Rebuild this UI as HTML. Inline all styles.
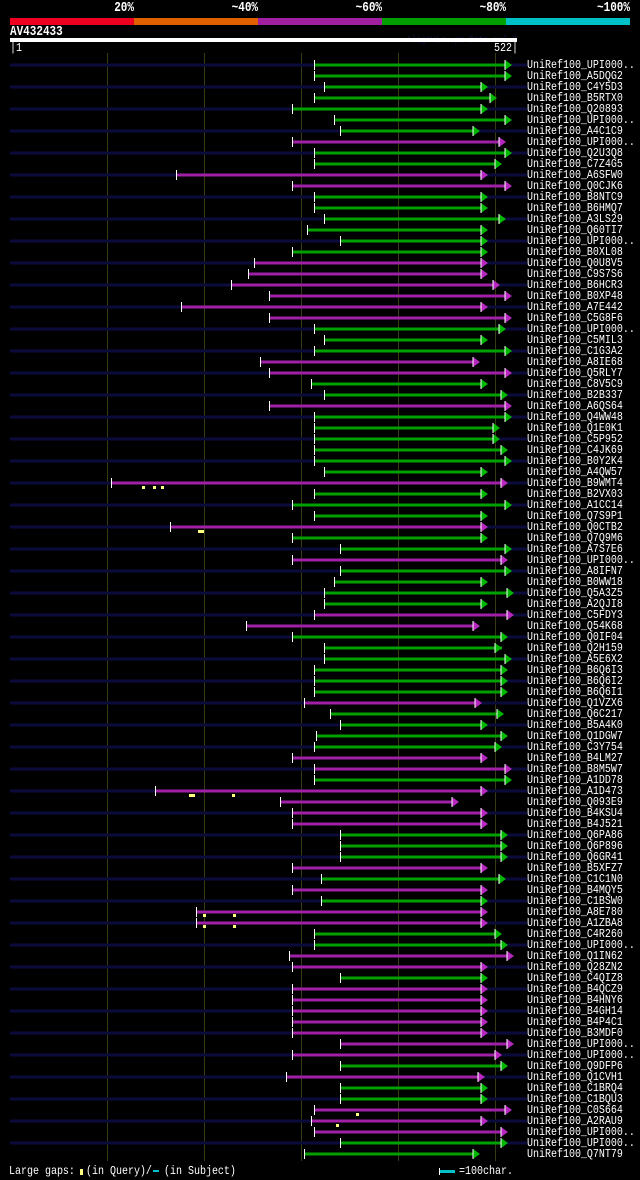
<!DOCTYPE html>
<html><head><meta charset="utf-8"><style>
html,body{margin:0;padding:0;background:#000;width:640px;height:1180px;overflow:hidden}
svg{display:block}
.b{fill:#0a0a38}.g{fill:#00a000}.m{fill:#a020a8}.w{fill:#fff}
text{font-family:"Liberation Mono",monospace;fill:#fff;transform-box:fill-box;transform-origin:left bottom;transform:scaleY(1.22)}
.l{font-size:10px}
</style></head><body>
<svg width="640" height="1180" xmlns="http://www.w3.org/2000/svg">
<defs>
<g id="tg"><polygon points="-7,-5 0,0 -7,5" fill="#00b800"/><rect x="-7.5" y="-5" width="1" height="10" fill="#fff"/></g>
<g id="tm"><polygon points="-7,-5 0,0 -7,5" fill="#b828c0"/><rect x="-7.5" y="-5" width="1" height="10" fill="#fff"/></g>
<rect id="bg" x="10" y="-1.5" width="517" height="3" fill="#0c0c3c"/>
</defs>
<text x="134" y="12" text-anchor="end" font-size="11" font-weight="bold">20%</text>
<text x="258" y="12" text-anchor="end" font-size="11" font-weight="bold">~40%</text>
<text x="382" y="12" text-anchor="end" font-size="11" font-weight="bold">~60%</text>
<text x="506" y="12" text-anchor="end" font-size="11" font-weight="bold">~80%</text>
<text x="630" y="12" text-anchor="end" font-size="11" font-weight="bold">~100%</text>
<rect x="10" y="18" width="124" height="7" fill="#f00020"/>
<rect x="134" y="18" width="124" height="7" fill="#e06000"/>
<rect x="258" y="18" width="124" height="7" fill="#a020a0"/>
<rect x="382" y="18" width="124" height="7" fill="#00a000"/>
<rect x="506" y="18" width="124" height="7" fill="#00c0c8"/>
<text x="10" y="36" font-size="11" font-weight="bold">AV432433</text>
<text x="517" y="43" text-anchor="end" font-size="8" style="fill:#101040">AlignView.pm Beta rel.7</text>
<rect x="10" y="38" width="507" height="4" fill="#fff"/>
<text x="10" y="52" font-size="10">|1</text>
<text x="518" y="52" text-anchor="end" font-size="10">522|</text>
<g fill="#3a3a10"><rect x="107" y="53" width="1" height="1108"/><rect x="204" y="53" width="1" height="1108"/><rect x="301" y="53" width="1" height="1108"/><rect x="398" y="53" width="1" height="1108"/><rect x="495" y="53" width="1" height="1108"/></g>

<g transform="translate(0,65)"><use href="#bg"/><rect class="g" x="314" y="-1.5" width="192" height="3"/><rect class="w" x="314" y="-5" width="1" height="10"/><use href="#tg" x="512"/><text class="l" x="527" y="4">UniRef100_UPI000..</text></g>
<g transform="translate(0,76)"><rect class="g" x="314" y="-1.5" width="192" height="3"/><rect class="w" x="314" y="-5" width="1" height="10"/><use href="#tg" x="512"/><text class="l" x="527" y="4">UniRef100_A5DQG2</text></g>
<g transform="translate(0,87)"><use href="#bg"/><rect class="g" x="324" y="-1.5" width="158" height="3"/><rect class="w" x="324" y="-5" width="1" height="10"/><use href="#tg" x="488"/><text class="l" x="527" y="4">UniRef100_C4Y5D3</text></g>
<g transform="translate(0,98)"><rect class="g" x="314" y="-1.5" width="177" height="3"/><rect class="w" x="314" y="-5" width="1" height="10"/><use href="#tg" x="497"/><text class="l" x="527" y="4">UniRef100_B5RTX0</text></g>
<g transform="translate(0,109)"><use href="#bg"/><rect class="g" x="292" y="-1.5" width="190" height="3"/><rect class="w" x="292" y="-5" width="1" height="10"/><use href="#tg" x="488"/><text class="l" x="527" y="4">UniRef100_Q20893</text></g>
<g transform="translate(0,120)"><rect class="g" x="334" y="-1.5" width="172" height="3"/><rect class="w" x="334" y="-5" width="1" height="10"/><use href="#tg" x="512"/><text class="l" x="527" y="4">UniRef100_UPI000..</text></g>
<g transform="translate(0,131)"><use href="#bg"/><rect class="g" x="340" y="-1.5" width="134" height="3"/><rect class="w" x="340" y="-5" width="1" height="10"/><use href="#tg" x="480"/><text class="l" x="527" y="4">UniRef100_A4C1C9</text></g>
<g transform="translate(0,142)"><rect class="m" x="292" y="-1.5" width="208" height="3"/><rect class="w" x="292" y="-5" width="1" height="10"/><use href="#tm" x="506"/><text class="l" x="527" y="4">UniRef100_UPI000..</text></g>
<g transform="translate(0,153)"><use href="#bg"/><rect class="g" x="314" y="-1.5" width="192" height="3"/><rect class="w" x="314" y="-5" width="1" height="10"/><use href="#tg" x="512"/><text class="l" x="527" y="4">UniRef100_Q2U3Q8</text></g>
<g transform="translate(0,164)"><rect class="g" x="314" y="-1.5" width="182" height="3"/><rect class="w" x="314" y="-5" width="1" height="10"/><use href="#tg" x="502"/><text class="l" x="527" y="4">UniRef100_C7Z4G5</text></g>
<g transform="translate(0,175)"><use href="#bg"/><rect class="m" x="176" y="-1.5" width="306" height="3"/><rect class="w" x="176" y="-5" width="1" height="10"/><use href="#tm" x="488"/><text class="l" x="527" y="4">UniRef100_A6SFW0</text></g>
<g transform="translate(0,186)"><rect class="m" x="292" y="-1.5" width="214" height="3"/><rect class="w" x="292" y="-5" width="1" height="10"/><use href="#tm" x="512"/><text class="l" x="527" y="4">UniRef100_Q0CJK6</text></g>
<g transform="translate(0,197)"><use href="#bg"/><rect class="g" x="314" y="-1.5" width="168" height="3"/><rect class="w" x="314" y="-5" width="1" height="10"/><use href="#tg" x="488"/><text class="l" x="527" y="4">UniRef100_B8NTC9</text></g>
<g transform="translate(0,208)"><rect class="g" x="314" y="-1.5" width="168" height="3"/><rect class="w" x="314" y="-5" width="1" height="10"/><use href="#tg" x="488"/><text class="l" x="527" y="4">UniRef100_B6HMQ7</text></g>
<g transform="translate(0,219)"><use href="#bg"/><rect class="g" x="324" y="-1.5" width="176" height="3"/><rect class="w" x="324" y="-5" width="1" height="10"/><use href="#tg" x="506"/><text class="l" x="527" y="4">UniRef100_A3LS29</text></g>
<g transform="translate(0,230)"><rect class="g" x="307" y="-1.5" width="175" height="3"/><rect class="w" x="307" y="-5" width="1" height="10"/><use href="#tg" x="488"/><text class="l" x="527" y="4">UniRef100_Q60TI7</text></g>
<g transform="translate(0,241)"><use href="#bg"/><rect class="g" x="340" y="-1.5" width="142" height="3"/><rect class="w" x="340" y="-5" width="1" height="10"/><use href="#tg" x="488"/><text class="l" x="527" y="4">UniRef100_UPI000..</text></g>
<g transform="translate(0,252)"><rect class="g" x="292" y="-1.5" width="190" height="3"/><rect class="w" x="292" y="-5" width="1" height="10"/><use href="#tg" x="488"/><text class="l" x="527" y="4">UniRef100_B0XL08</text></g>
<g transform="translate(0,263)"><use href="#bg"/><rect class="m" x="254" y="-1.5" width="228" height="3"/><rect class="w" x="254" y="-5" width="1" height="10"/><use href="#tm" x="488"/><text class="l" x="527" y="4">UniRef100_Q0U8V5</text></g>
<g transform="translate(0,274)"><rect class="m" x="248" y="-1.5" width="234" height="3"/><rect class="w" x="248" y="-5" width="1" height="10"/><use href="#tm" x="488"/><text class="l" x="527" y="4">UniRef100_C9S7S6</text></g>
<g transform="translate(0,285)"><use href="#bg"/><rect class="m" x="231" y="-1.5" width="263" height="3"/><rect class="w" x="231" y="-5" width="1" height="10"/><use href="#tm" x="500"/><text class="l" x="527" y="4">UniRef100_B6HCR3</text></g>
<g transform="translate(0,296)"><rect class="m" x="269" y="-1.5" width="237" height="3"/><rect class="w" x="269" y="-5" width="1" height="10"/><use href="#tm" x="512"/><text class="l" x="527" y="4">UniRef100_B0XP48</text></g>
<g transform="translate(0,307)"><use href="#bg"/><rect class="m" x="181" y="-1.5" width="301" height="3"/><rect class="w" x="181" y="-5" width="1" height="10"/><use href="#tm" x="488"/><text class="l" x="527" y="4">UniRef100_A7E442</text></g>
<g transform="translate(0,318)"><rect class="m" x="269" y="-1.5" width="237" height="3"/><rect class="w" x="269" y="-5" width="1" height="10"/><use href="#tm" x="512"/><text class="l" x="527" y="4">UniRef100_C5G8F6</text></g>
<g transform="translate(0,329)"><use href="#bg"/><rect class="g" x="314" y="-1.5" width="186" height="3"/><rect class="w" x="314" y="-5" width="1" height="10"/><use href="#tg" x="506"/><text class="l" x="527" y="4">UniRef100_UPI000..</text></g>
<g transform="translate(0,340)"><rect class="g" x="324" y="-1.5" width="158" height="3"/><rect class="w" x="324" y="-5" width="1" height="10"/><use href="#tg" x="488"/><text class="l" x="527" y="4">UniRef100_C5MIL3</text></g>
<g transform="translate(0,351)"><use href="#bg"/><rect class="g" x="314" y="-1.5" width="192" height="3"/><rect class="w" x="314" y="-5" width="1" height="10"/><use href="#tg" x="512"/><text class="l" x="527" y="4">UniRef100_C1G3A2</text></g>
<g transform="translate(0,362)"><rect class="m" x="260" y="-1.5" width="214" height="3"/><rect class="w" x="260" y="-5" width="1" height="10"/><use href="#tm" x="480"/><text class="l" x="527" y="4">UniRef100_A8IE68</text></g>
<g transform="translate(0,373)"><use href="#bg"/><rect class="m" x="269" y="-1.5" width="237" height="3"/><rect class="w" x="269" y="-5" width="1" height="10"/><use href="#tm" x="512"/><text class="l" x="527" y="4">UniRef100_Q5RLY7</text></g>
<g transform="translate(0,384)"><rect class="g" x="311" y="-1.5" width="171" height="3"/><rect class="w" x="311" y="-5" width="1" height="10"/><use href="#tg" x="488"/><text class="l" x="527" y="4">UniRef100_C8V5C9</text></g>
<g transform="translate(0,395)"><use href="#bg"/><rect class="g" x="324" y="-1.5" width="178" height="3"/><rect class="w" x="324" y="-5" width="1" height="10"/><use href="#tg" x="508"/><text class="l" x="527" y="4">UniRef100_B2B337</text></g>
<g transform="translate(0,406)"><rect class="m" x="269" y="-1.5" width="237" height="3"/><rect class="w" x="269" y="-5" width="1" height="10"/><use href="#tm" x="512"/><text class="l" x="527" y="4">UniRef100_A6QS64</text></g>
<g transform="translate(0,417)"><use href="#bg"/><rect class="g" x="314" y="-1.5" width="192" height="3"/><rect class="w" x="314" y="-5" width="1" height="10"/><use href="#tg" x="512"/><text class="l" x="527" y="4">UniRef100_Q4WW48</text></g>
<g transform="translate(0,428)"><rect class="g" x="314" y="-1.5" width="180" height="3"/><rect class="w" x="314" y="-5" width="1" height="10"/><use href="#tg" x="500"/><text class="l" x="527" y="4">UniRef100_Q1E0K1</text></g>
<g transform="translate(0,439)"><use href="#bg"/><rect class="g" x="314" y="-1.5" width="180" height="3"/><rect class="w" x="314" y="-5" width="1" height="10"/><use href="#tg" x="500"/><text class="l" x="527" y="4">UniRef100_C5P952</text></g>
<g transform="translate(0,450)"><rect class="g" x="314" y="-1.5" width="188" height="3"/><rect class="w" x="314" y="-5" width="1" height="10"/><use href="#tg" x="508"/><text class="l" x="527" y="4">UniRef100_C4JK69</text></g>
<g transform="translate(0,461)"><use href="#bg"/><rect class="g" x="314" y="-1.5" width="192" height="3"/><rect class="w" x="314" y="-5" width="1" height="10"/><use href="#tg" x="512"/><text class="l" x="527" y="4">UniRef100_B0Y2K4</text></g>
<g transform="translate(0,472)"><rect class="g" x="324" y="-1.5" width="158" height="3"/><rect class="w" x="324" y="-5" width="1" height="10"/><use href="#tg" x="488"/><text class="l" x="527" y="4">UniRef100_A4QW57</text></g>
<g transform="translate(0,483)"><use href="#bg"/><rect class="m" x="111" y="-1.5" width="391" height="3"/><rect class="w" x="111" y="-5" width="1" height="10"/><use href="#tm" x="508"/><g fill="#ffff80"><rect x="142" y="3" width="3" height="3"/><rect x="153" y="3" width="3" height="3"/><rect x="161" y="3" width="3" height="3"/></g><text class="l" x="527" y="4">UniRef100_B9WMT4</text></g>
<g transform="translate(0,494)"><rect class="g" x="314" y="-1.5" width="168" height="3"/><rect class="w" x="314" y="-5" width="1" height="10"/><use href="#tg" x="488"/><text class="l" x="527" y="4">UniRef100_B2VX03</text></g>
<g transform="translate(0,505)"><use href="#bg"/><rect class="g" x="292" y="-1.5" width="214" height="3"/><rect class="w" x="292" y="-5" width="1" height="10"/><use href="#tg" x="512"/><text class="l" x="527" y="4">UniRef100_A1CC14</text></g>
<g transform="translate(0,516)"><rect class="g" x="314" y="-1.5" width="168" height="3"/><rect class="w" x="314" y="-5" width="1" height="10"/><use href="#tg" x="488"/><text class="l" x="527" y="4">UniRef100_Q7S9P1</text></g>
<g transform="translate(0,527)"><use href="#bg"/><rect class="m" x="170" y="-1.5" width="312" height="3"/><rect class="w" x="170" y="-5" width="1" height="10"/><use href="#tm" x="488"/><rect x="198" y="3" width="6" height="3" fill="#ffff80"/><text class="l" x="527" y="4">UniRef100_Q0CTB2</text></g>
<g transform="translate(0,538)"><rect class="g" x="292" y="-1.5" width="190" height="3"/><rect class="w" x="292" y="-5" width="1" height="10"/><use href="#tg" x="488"/><text class="l" x="527" y="4">UniRef100_Q7Q9M6</text></g>
<g transform="translate(0,549)"><use href="#bg"/><rect class="g" x="340" y="-1.5" width="166" height="3"/><rect class="w" x="340" y="-5" width="1" height="10"/><use href="#tg" x="512"/><text class="l" x="527" y="4">UniRef100_A7S7E6</text></g>
<g transform="translate(0,560)"><rect class="m" x="292" y="-1.5" width="210" height="3"/><rect class="w" x="292" y="-5" width="1" height="10"/><use href="#tm" x="508"/><text class="l" x="527" y="4">UniRef100_UPI000..</text></g>
<g transform="translate(0,571)"><use href="#bg"/><rect class="g" x="340" y="-1.5" width="166" height="3"/><rect class="w" x="340" y="-5" width="1" height="10"/><use href="#tg" x="512"/><text class="l" x="527" y="4">UniRef100_A8IFN7</text></g>
<g transform="translate(0,582)"><rect class="g" x="334" y="-1.5" width="148" height="3"/><rect class="w" x="334" y="-5" width="1" height="10"/><use href="#tg" x="488"/><text class="l" x="527" y="4">UniRef100_B0WW18</text></g>
<g transform="translate(0,593)"><use href="#bg"/><rect class="g" x="324" y="-1.5" width="184" height="3"/><rect class="w" x="324" y="-5" width="1" height="10"/><use href="#tg" x="514"/><text class="l" x="527" y="4">UniRef100_Q5A3Z5</text></g>
<g transform="translate(0,604)"><rect class="g" x="324" y="-1.5" width="158" height="3"/><rect class="w" x="324" y="-5" width="1" height="10"/><use href="#tg" x="488"/><text class="l" x="527" y="4">UniRef100_A2QJI8</text></g>
<g transform="translate(0,615)"><use href="#bg"/><rect class="m" x="314" y="-1.5" width="194" height="3"/><rect class="w" x="314" y="-5" width="1" height="10"/><use href="#tm" x="514"/><text class="l" x="527" y="4">UniRef100_C5FDY3</text></g>
<g transform="translate(0,626)"><rect class="m" x="246" y="-1.5" width="228" height="3"/><rect class="w" x="246" y="-5" width="1" height="10"/><use href="#tm" x="480"/><text class="l" x="527" y="4">UniRef100_Q54K68</text></g>
<g transform="translate(0,637)"><use href="#bg"/><rect class="g" x="292" y="-1.5" width="210" height="3"/><rect class="w" x="292" y="-5" width="1" height="10"/><use href="#tg" x="508"/><text class="l" x="527" y="4">UniRef100_Q0IF04</text></g>
<g transform="translate(0,648)"><rect class="g" x="324" y="-1.5" width="178" height="3"/><rect class="w" x="324" y="-5" width="1" height="10"/><use href="#tg" x="502"/><text class="l" x="527" y="4">UniRef100_Q2H159</text></g>
<g transform="translate(0,659)"><use href="#bg"/><rect class="g" x="324" y="-1.5" width="182" height="3"/><rect class="w" x="324" y="-5" width="1" height="10"/><use href="#tg" x="512"/><text class="l" x="527" y="4">UniRef100_A5E6X2</text></g>
<g transform="translate(0,670)"><rect class="g" x="314" y="-1.5" width="188" height="3"/><rect class="w" x="314" y="-5" width="1" height="10"/><use href="#tg" x="508"/><text class="l" x="527" y="4">UniRef100_B6Q6I3</text></g>
<g transform="translate(0,681)"><use href="#bg"/><rect class="g" x="314" y="-1.5" width="188" height="3"/><rect class="w" x="314" y="-5" width="1" height="10"/><use href="#tg" x="508"/><text class="l" x="527" y="4">UniRef100_B6Q6I2</text></g>
<g transform="translate(0,692)"><rect class="g" x="314" y="-1.5" width="188" height="3"/><rect class="w" x="314" y="-5" width="1" height="10"/><use href="#tg" x="508"/><text class="l" x="527" y="4">UniRef100_B6Q6I1</text></g>
<g transform="translate(0,703)"><use href="#bg"/><rect class="m" x="304" y="-1.5" width="172" height="3"/><rect class="w" x="304" y="-5" width="1" height="10"/><use href="#tm" x="482"/><text class="l" x="527" y="4">UniRef100_Q1VZX6</text></g>
<g transform="translate(0,714)"><rect class="g" x="330" y="-1.5" width="168" height="3"/><rect class="w" x="330" y="-5" width="1" height="10"/><use href="#tg" x="504"/><text class="l" x="527" y="4">UniRef100_Q6C217</text></g>
<g transform="translate(0,725)"><use href="#bg"/><rect class="g" x="340" y="-1.5" width="142" height="3"/><rect class="w" x="340" y="-5" width="1" height="10"/><use href="#tg" x="488"/><text class="l" x="527" y="4">UniRef100_B5A4K0</text></g>
<g transform="translate(0,736)"><rect class="g" x="316" y="-1.5" width="186" height="3"/><rect class="w" x="316" y="-5" width="1" height="10"/><use href="#tg" x="508"/><text class="l" x="527" y="4">UniRef100_Q1DGW7</text></g>
<g transform="translate(0,747)"><use href="#bg"/><rect class="g" x="314" y="-1.5" width="182" height="3"/><rect class="w" x="314" y="-5" width="1" height="10"/><use href="#tg" x="502"/><text class="l" x="527" y="4">UniRef100_C3Y754</text></g>
<g transform="translate(0,758)"><rect class="m" x="292" y="-1.5" width="190" height="3"/><rect class="w" x="292" y="-5" width="1" height="10"/><use href="#tm" x="488"/><text class="l" x="527" y="4">UniRef100_B4LM27</text></g>
<g transform="translate(0,769)"><use href="#bg"/><rect class="m" x="314" y="-1.5" width="192" height="3"/><rect class="w" x="314" y="-5" width="1" height="10"/><use href="#tm" x="512"/><text class="l" x="527" y="4">UniRef100_B8M5W7</text></g>
<g transform="translate(0,780)"><rect class="g" x="314" y="-1.5" width="192" height="3"/><rect class="w" x="314" y="-5" width="1" height="10"/><use href="#tg" x="512"/><text class="l" x="527" y="4">UniRef100_A1DD78</text></g>
<g transform="translate(0,791)"><use href="#bg"/><rect class="m" x="155" y="-1.5" width="327" height="3"/><rect class="w" x="155" y="-5" width="1" height="10"/><use href="#tm" x="488"/><g fill="#ffff80"><rect x="189" y="3" width="6" height="3"/><rect x="232" y="3" width="3" height="3"/></g><text class="l" x="527" y="4">UniRef100_A1D473</text></g>
<g transform="translate(0,802)"><rect class="m" x="280" y="-1.5" width="173" height="3"/><rect class="w" x="280" y="-5" width="1" height="10"/><use href="#tm" x="459"/><text class="l" x="527" y="4">UniRef100_Q093E9</text></g>
<g transform="translate(0,813)"><use href="#bg"/><rect class="m" x="292" y="-1.5" width="190" height="3"/><rect class="w" x="292" y="-5" width="1" height="10"/><use href="#tm" x="488"/><text class="l" x="527" y="4">UniRef100_B4KSU4</text></g>
<g transform="translate(0,824)"><rect class="m" x="292" y="-1.5" width="190" height="3"/><rect class="w" x="292" y="-5" width="1" height="10"/><use href="#tm" x="488"/><text class="l" x="527" y="4">UniRef100_B4J521</text></g>
<g transform="translate(0,835)"><use href="#bg"/><rect class="g" x="340" y="-1.5" width="162" height="3"/><rect class="w" x="340" y="-5" width="1" height="10"/><use href="#tg" x="508"/><text class="l" x="527" y="4">UniRef100_Q6PA86</text></g>
<g transform="translate(0,846)"><rect class="g" x="340" y="-1.5" width="162" height="3"/><rect class="w" x="340" y="-5" width="1" height="10"/><use href="#tg" x="508"/><text class="l" x="527" y="4">UniRef100_Q6P896</text></g>
<g transform="translate(0,857)"><use href="#bg"/><rect class="g" x="340" y="-1.5" width="162" height="3"/><rect class="w" x="340" y="-5" width="1" height="10"/><use href="#tg" x="508"/><text class="l" x="527" y="4">UniRef100_Q6GR41</text></g>
<g transform="translate(0,868)"><rect class="m" x="292" y="-1.5" width="190" height="3"/><rect class="w" x="292" y="-5" width="1" height="10"/><use href="#tm" x="488"/><text class="l" x="527" y="4">UniRef100_B5XFZ7</text></g>
<g transform="translate(0,879)"><use href="#bg"/><rect class="g" x="321" y="-1.5" width="179" height="3"/><rect class="w" x="321" y="-5" width="1" height="10"/><use href="#tg" x="506"/><text class="l" x="527" y="4">UniRef100_C1C1N0</text></g>
<g transform="translate(0,890)"><rect class="m" x="292" y="-1.5" width="190" height="3"/><rect class="w" x="292" y="-5" width="1" height="10"/><use href="#tm" x="488"/><text class="l" x="527" y="4">UniRef100_B4MQY5</text></g>
<g transform="translate(0,901)"><use href="#bg"/><rect class="g" x="321" y="-1.5" width="161" height="3"/><rect class="w" x="321" y="-5" width="1" height="10"/><use href="#tg" x="488"/><text class="l" x="527" y="4">UniRef100_C1BSW0</text></g>
<g transform="translate(0,912)"><rect class="m" x="196" y="-1.5" width="286" height="3"/><rect class="w" x="196" y="-5" width="1" height="10"/><use href="#tm" x="488"/><g fill="#ffff80"><rect x="203" y="2" width="3" height="3"/><rect x="233" y="2" width="3" height="3"/></g><text class="l" x="527" y="4">UniRef100_A8E780</text></g>
<g transform="translate(0,923)"><use href="#bg"/><rect class="m" x="196" y="-1.5" width="286" height="3"/><rect class="w" x="196" y="-5" width="1" height="10"/><use href="#tm" x="488"/><g fill="#ffff80"><rect x="203" y="2" width="3" height="3"/><rect x="233" y="2" width="3" height="3"/></g><text class="l" x="527" y="4">UniRef100_A1ZBA8</text></g>
<g transform="translate(0,934)"><rect class="g" x="314" y="-1.5" width="182" height="3"/><rect class="w" x="314" y="-5" width="1" height="10"/><use href="#tg" x="502"/><text class="l" x="527" y="4">UniRef100_C4R260</text></g>
<g transform="translate(0,945)"><use href="#bg"/><rect class="g" x="314" y="-1.5" width="188" height="3"/><rect class="w" x="314" y="-5" width="1" height="10"/><use href="#tg" x="508"/><text class="l" x="527" y="4">UniRef100_UPI000..</text></g>
<g transform="translate(0,956)"><rect class="m" x="289" y="-1.5" width="219" height="3"/><rect class="w" x="289" y="-5" width="1" height="10"/><use href="#tm" x="514"/><text class="l" x="527" y="4">UniRef100_Q1IN62</text></g>
<g transform="translate(0,967)"><use href="#bg"/><rect class="m" x="292" y="-1.5" width="190" height="3"/><rect class="w" x="292" y="-5" width="1" height="10"/><use href="#tm" x="488"/><text class="l" x="527" y="4">UniRef100_Q28ZN2</text></g>
<g transform="translate(0,978)"><rect class="g" x="340" y="-1.5" width="142" height="3"/><rect class="w" x="340" y="-5" width="1" height="10"/><use href="#tg" x="488"/><text class="l" x="527" y="4">UniRef100_C4QIZ8</text></g>
<g transform="translate(0,989)"><use href="#bg"/><rect class="m" x="292" y="-1.5" width="190" height="3"/><rect class="w" x="292" y="-5" width="1" height="10"/><use href="#tm" x="488"/><text class="l" x="527" y="4">UniRef100_B4QCZ9</text></g>
<g transform="translate(0,1000)"><rect class="m" x="292" y="-1.5" width="190" height="3"/><rect class="w" x="292" y="-5" width="1" height="10"/><use href="#tm" x="488"/><text class="l" x="527" y="4">UniRef100_B4HNY6</text></g>
<g transform="translate(0,1011)"><use href="#bg"/><rect class="m" x="292" y="-1.5" width="190" height="3"/><rect class="w" x="292" y="-5" width="1" height="10"/><use href="#tm" x="488"/><text class="l" x="527" y="4">UniRef100_B4GH14</text></g>
<g transform="translate(0,1022)"><rect class="m" x="292" y="-1.5" width="190" height="3"/><rect class="w" x="292" y="-5" width="1" height="10"/><use href="#tm" x="488"/><text class="l" x="527" y="4">UniRef100_B4P4C1</text></g>
<g transform="translate(0,1033)"><use href="#bg"/><rect class="m" x="292" y="-1.5" width="190" height="3"/><rect class="w" x="292" y="-5" width="1" height="10"/><use href="#tm" x="488"/><text class="l" x="527" y="4">UniRef100_B3MDF0</text></g>
<g transform="translate(0,1044)"><rect class="m" x="340" y="-1.5" width="168" height="3"/><rect class="w" x="340" y="-5" width="1" height="10"/><use href="#tm" x="514"/><text class="l" x="527" y="4">UniRef100_UPI000..</text></g>
<g transform="translate(0,1055)"><use href="#bg"/><rect class="m" x="292" y="-1.5" width="204" height="3"/><rect class="w" x="292" y="-5" width="1" height="10"/><use href="#tm" x="502"/><text class="l" x="527" y="4">UniRef100_UPI000..</text></g>
<g transform="translate(0,1066)"><rect class="g" x="340" y="-1.5" width="162" height="3"/><rect class="w" x="340" y="-5" width="1" height="10"/><use href="#tg" x="508"/><text class="l" x="527" y="4">UniRef100_Q9DFP6</text></g>
<g transform="translate(0,1077)"><use href="#bg"/><rect class="m" x="286" y="-1.5" width="193" height="3"/><rect class="w" x="286" y="-5" width="1" height="10"/><use href="#tm" x="485"/><text class="l" x="527" y="4">UniRef100_Q1CVH1</text></g>
<g transform="translate(0,1088)"><rect class="g" x="340" y="-1.5" width="142" height="3"/><rect class="w" x="340" y="-5" width="1" height="10"/><use href="#tg" x="488"/><text class="l" x="527" y="4">UniRef100_C1BRQ4</text></g>
<g transform="translate(0,1099)"><use href="#bg"/><rect class="g" x="340" y="-1.5" width="142" height="3"/><rect class="w" x="340" y="-5" width="1" height="10"/><use href="#tg" x="488"/><text class="l" x="527" y="4">UniRef100_C1BQU3</text></g>
<g transform="translate(0,1110)"><rect class="m" x="314" y="-1.5" width="192" height="3"/><rect class="w" x="314" y="-5" width="1" height="10"/><use href="#tm" x="512"/><rect x="356" y="3" width="3" height="3" fill="#ffff80"/><text class="l" x="527" y="4">UniRef100_C0S664</text></g>
<g transform="translate(0,1121)"><use href="#bg"/><rect class="m" x="311" y="-1.5" width="171" height="3"/><rect class="w" x="311" y="-5" width="1" height="10"/><use href="#tm" x="488"/><rect x="336" y="3" width="3" height="3" fill="#ffff80"/><text class="l" x="527" y="4">UniRef100_A2RAU9</text></g>
<g transform="translate(0,1132)"><rect class="m" x="314" y="-1.5" width="188" height="3"/><rect class="w" x="314" y="-5" width="1" height="10"/><use href="#tm" x="508"/><text class="l" x="527" y="4">UniRef100_UPI000..</text></g>
<g transform="translate(0,1143)"><use href="#bg"/><rect class="g" x="340" y="-1.5" width="162" height="3"/><rect class="w" x="340" y="-5" width="1" height="10"/><use href="#tg" x="508"/><text class="l" x="527" y="4">UniRef100_UPI000..</text></g>
<g transform="translate(0,1154)"><rect class="g" x="304" y="-1.5" width="170" height="3"/><rect class="w" x="304" y="-5" width="1" height="10"/><use href="#tg" x="480"/><text class="l" x="527" y="4">UniRef100_Q7NT79</text></g>

<text x="9" y="1175" font-size="10">Large gaps:</text>
<rect x="80" y="1169" width="3" height="6" fill="#ffff80"/>
<text x="86" y="1175" font-size="10">(in Query)/</text>
<rect x="153" y="1170" width="6" height="2" fill="#00c0c8"/>
<text x="164" y="1175" font-size="10">(in Subject)</text>
<rect x="439" y="1168" width="1" height="7" fill="#fff"/>
<rect x="440" y="1170" width="15" height="3" fill="#00c0c8"/>
<text x="459" y="1175" font-size="10">=100char.</text>
</svg>
</body></html>
